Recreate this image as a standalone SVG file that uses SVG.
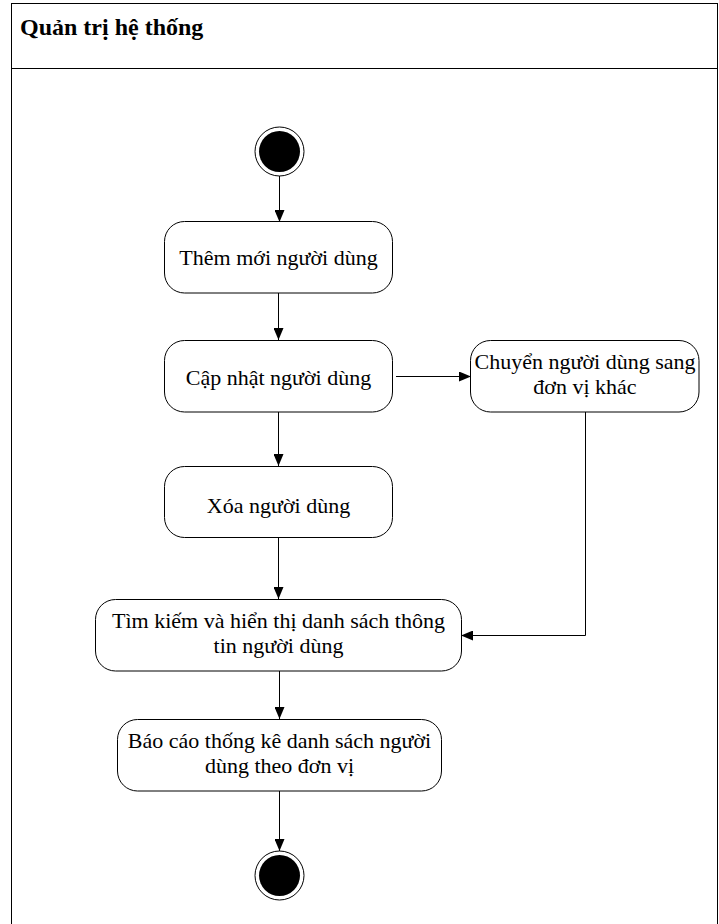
<svg xmlns="http://www.w3.org/2000/svg" width="719" height="924" viewBox="0 0 719 924">
  <style>
    .frame { fill: #ffffff; stroke: #000000; stroke-width: 1; }
    .act { fill: #ffffff; stroke: #000000; stroke-width: 1; }
    text { font-family: 'Liberation Serif', 'Times New Roman', Times, 'DejaVu Serif', serif; fill: #000000; }
    .lbl { font-size: 22px; text-anchor: middle; }
    .title { font-size: 24px; font-weight: bold; }
    .flow { fill: none; stroke: #000000; stroke-width: 1; }
  </style>
  <defs>
    <marker id="arrow" viewBox="0 0 12 10" refX="12" refY="5" markerWidth="12" markerHeight="10" markerUnits="userSpaceOnUse" orient="auto">
      <path d="M0,0 L12,5 L0,10 Z" fill="#000000"/>
    </marker>
  </defs>

  <rect width="719" height="924" fill="#ffffff"/>

  <!-- swimlane frame with its header -->
  <g id="lane">
    <rect class="frame" x="11.5" y="3.5" width="706" height="930"/>
    <line x1="11.5" y1="68.5" x2="717.5" y2="68.5" stroke="#000000" stroke-width="1"/>
    <text class="title" x="20" y="35" font-family="Liberation Serif, serif">Quản trị hệ thống</text>
  </g>

  <!-- control flows -->
  <g id="connectors">
    <line class="flow" x1="279.5" y1="176" x2="279.5" y2="222" marker-end="url(#arrow)"/>
    <line class="flow" x1="278.5" y1="293" x2="278.5" y2="340" marker-end="url(#arrow)"/>
    <line class="flow" x1="278.5" y1="412" x2="278.5" y2="466" marker-end="url(#arrow)"/>
    <line class="flow" x1="396" y1="376.5" x2="471" y2="376.5" marker-end="url(#arrow)"/>
    <line class="flow" x1="278.5" y1="537" x2="278.5" y2="599" marker-end="url(#arrow)"/>
    <polyline class="flow" points="585.5,412 585.5,635.5 461,635.5" marker-end="url(#arrow)"/>
    <line class="flow" x1="279.5" y1="671" x2="279.5" y2="719" marker-end="url(#arrow)"/>
    <line class="flow" x1="279.5" y1="791" x2="279.5" y2="851" marker-end="url(#arrow)"/>
  </g>

  <g id="start">
    <circle cx="279.5" cy="151.5" r="24.5" fill="#ffffff" stroke="#000000" stroke-width="1"/>
    <circle cx="279.5" cy="151.5" r="20.5" fill="#000000"/>
  </g>

  <g id="add-user">
    <rect class="act" x="164.5" y="221.5" width="228" height="71.5" rx="20" ry="20"/>
    <text class="lbl" x="278.5" y="265">Thêm mới người dùng</text>
  </g>

  <g id="update-user">
    <rect class="act" x="164.5" y="340.5" width="228" height="71.5" rx="20" ry="20"/>
    <text class="lbl" x="278.5" y="385">Cập nhật người dùng</text>
  </g>

  <g id="move-user">
    <rect class="act" x="470.5" y="340.5" width="228.5" height="71.5" rx="20" ry="20"/>
    <text class="lbl" x="585" y="369">Chuyển người dùng sang</text>
    <text class="lbl" x="585" y="394">đơn vị khác</text>
  </g>

  <g id="delete-user">
    <rect class="act" x="164.5" y="466.5" width="228" height="71" rx="20" ry="20"/>
    <text class="lbl" x="278.5" y="513">Xóa người dùng</text>
  </g>

  <g id="search-users">
    <rect class="act" x="95.5" y="599.5" width="366" height="71.5" rx="20" ry="20"/>
    <text class="lbl" x="278.5" y="628">Tìm kiếm và hiển thị danh sách thông</text>
    <text class="lbl" x="278.5" y="653">tin người dùng</text>
  </g>

  <g id="report">
    <rect class="act" x="117.5" y="719.5" width="324" height="71.5" rx="20" ry="20"/>
    <text class="lbl" x="279.5" y="748">Báo cáo thống kê danh sách người</text>
    <text class="lbl" x="279.5" y="773">dùng theo đơn vị</text>
  </g>

  <g id="end">
    <circle cx="279.5" cy="875.5" r="24.5" fill="#ffffff" stroke="#000000" stroke-width="1"/>
    <circle cx="279.5" cy="875.5" r="20.5" fill="#000000"/>
  </g>
</svg>
